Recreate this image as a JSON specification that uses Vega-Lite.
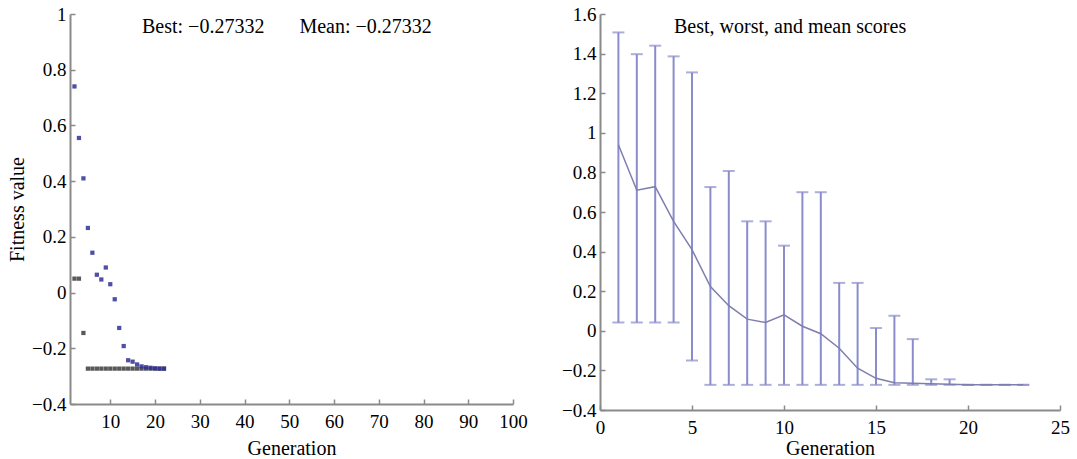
{
  "$schema": "https://vega.github.io/schema/vega-lite/v6.json",
  "background": "white",
  "padding": {"left": 7, "top": 5, "right": 0, "bottom": 0},
  "config": {
    "font": "Liberation Serif",
    "view": {"stroke": null},
    "concat": {"spacing": 33},
    "axis": {
      "labelFont": "Liberation Serif",
      "labelFontSize": 19,
      "labelColor": "#000",
      "labelOverlap": false,
      "titleFont": "Liberation Serif",
      "titleFontSize": 20,
      "titleFontWeight": "normal",
      "titleColor": "#000",
      "grid": false,
      "domainColor": "#8a8a8a",
      "domainWidth": 2,
      "tickColor": "#8a8a8a",
      "tickWidth": 1.5,
      "tickSize": -5,
      "labelPadding": 9
    },
    "axisX": {"labelPadding": 13, "labelFlush": false},
    "title": {"font": "Liberation Serif", "fontSize": 20, "fontWeight": "normal", "color": "#000"}
  },
  "datasets": {
    "left": [
      {"gen": 2, "best": 0.05, "mean": 0.74},
      {"gen": 3, "best": 0.05, "mean": 0.555},
      {"gen": 4, "best": -0.145, "mean": 0.41},
      {"gen": 5, "best": -0.273, "mean": 0.232},
      {"gen": 6, "best": -0.273, "mean": 0.143},
      {"gen": 7, "best": -0.273, "mean": 0.064},
      {"gen": 8, "best": -0.273, "mean": 0.047},
      {"gen": 9, "best": -0.273, "mean": 0.09},
      {"gen": 10, "best": -0.273, "mean": 0.03},
      {"gen": 11, "best": -0.273, "mean": -0.024},
      {"gen": 12, "best": -0.273, "mean": -0.127},
      {"gen": 13, "best": -0.273, "mean": -0.192},
      {"gen": 14, "best": -0.273, "mean": -0.243},
      {"gen": 15, "best": -0.273, "mean": -0.248},
      {"gen": 16, "best": -0.273, "mean": -0.258},
      {"gen": 17, "best": -0.273, "mean": -0.265},
      {"gen": 18, "best": -0.273, "mean": -0.268},
      {"gen": 19, "best": -0.273, "mean": -0.27},
      {"gen": 20, "best": -0.273, "mean": -0.272},
      {"gen": 21, "best": -0.273, "mean": -0.273},
      {"gen": 22, "best": -0.273, "mean": -0.273}
    ],
    "right": [
      {"gen": 1, "worst": 1.507, "best": 0.042, "mean": 0.94},
      {"gen": 2, "worst": 1.397, "best": 0.042, "mean": 0.71},
      {"gen": 3, "worst": 1.44, "best": 0.042, "mean": 0.728},
      {"gen": 4, "worst": 1.386, "best": 0.042, "mean": 0.553},
      {"gen": 5, "worst": 1.305, "best": -0.15, "mean": 0.41},
      {"gen": 6, "worst": 0.726, "best": -0.273, "mean": 0.223},
      {"gen": 7, "worst": 0.807, "best": -0.273, "mean": 0.127},
      {"gen": 8, "worst": 0.553, "best": -0.273, "mean": 0.059},
      {"gen": 9, "worst": 0.553, "best": -0.273, "mean": 0.042},
      {"gen": 10, "worst": 0.43, "best": -0.273, "mean": 0.081},
      {"gen": 11, "worst": 0.7, "best": -0.273, "mean": 0.023},
      {"gen": 12, "worst": 0.7, "best": -0.273, "mean": -0.015},
      {"gen": 13, "worst": 0.242, "best": -0.273, "mean": -0.088},
      {"gen": 14, "worst": 0.242, "best": -0.273, "mean": -0.189},
      {"gen": 15, "worst": 0.014, "best": -0.273, "mean": -0.24},
      {"gen": 16, "worst": 0.076, "best": -0.273, "mean": -0.262},
      {"gen": 17, "worst": -0.042, "best": -0.273, "mean": -0.265},
      {"gen": 18, "worst": -0.245, "best": -0.273, "mean": -0.268},
      {"gen": 19, "worst": -0.245, "best": -0.273, "mean": -0.27},
      {"gen": 20, "worst": -0.273, "best": -0.273, "mean": -0.273},
      {"gen": 21, "worst": -0.273, "best": -0.273, "mean": -0.273},
      {"gen": 22, "worst": -0.273, "best": -0.273, "mean": -0.273},
      {"gen": 23, "worst": -0.273, "best": -0.273, "mean": -0.273}
    ]
  },
  "hconcat": [
    {
      "width": 443,
      "height": 390,
      "data": {"name": "left"},
      "title": {
        "text": "Best: −0.27332\u00a0\u00a0\u00a0\u00a0\u00a0\u00a0\u00a0Mean: −0.27332",
        "anchor": "start",
        "frame": "group",
        "dx": 72,
        "offset": -48,
        "baseline": "alphabetic"
      },
      "layer": [
        {
          "mark": {"type": "point", "shape": "square", "filled": true, "size": 18, "color": "#3c3c3c", "opacity": 0.85},
          "encoding": {
            "x": {"field": "gen", "type": "quantitative", "scale": {"domain": [1, 100], "nice": false},
                  "axis": {"values": [10, 20, 30, 40, 50, 60, 70, 80, 90, 100], "tickCount": 20, "title": "Generation", "titlePadding": 7}},
            "y": {"field": "best", "type": "quantitative", "scale": {"domain": [-0.4, 1], "nice": false},
                  "axis": {"values": [-0.4, -0.2, 0, 0.2, 0.4, 0.6, 0.8, 1], "tickCount": 20, "format": ".1~f", "title": "Fitness value", "titlePadding": 4}}
          }
        },
        {
          "mark": {"type": "point", "shape": "square", "filled": true, "size": 18, "color": "#303095", "opacity": 0.85},
          "encoding": {
            "x": {"field": "gen", "type": "quantitative"},
            "y": {"field": "mean", "type": "quantitative"}
          }
        }
      ]
    },
    {
      "width": 460,
      "height": 396,
      "data": {"name": "right"},
      "title": {
        "text": "Best, worst, and mean scores",
        "anchor": "start",
        "frame": "group",
        "dx": 74,
        "offset": -48,
        "baseline": "alphabetic"
      },
      "layer": [
        {
          "mark": {"type": "rule", "color": "#8a8ccc", "strokeWidth": 2},
          "encoding": {
            "x": {"field": "gen", "type": "quantitative", "scale": {"domain": [0, 25], "nice": false},
                  "axis": {"values": [0, 5, 10, 15, 20, 25], "tickCount": 20, "title": "Generation", "titlePadding": 1}},
            "y": {"field": "worst", "type": "quantitative", "scale": {"domain": [-0.4, 1.6], "nice": false},
                  "axis": {"values": [-0.4, -0.2, 0, 0.2, 0.4, 0.6, 0.8, 1, 1.2, 1.4, 1.6], "tickCount": 20, "format": ".1~f", "title": null}},
            "y2": {"field": "best"}
          }
        },
        {
          "mark": {"type": "tick", "orient": "horizontal", "size": 12, "thickness": 2, "color": "#8a8ccc"},
          "encoding": {
            "x": {"field": "gen", "type": "quantitative"},
            "y": {"field": "worst", "type": "quantitative"}
          }
        },
        {
          "mark": {"type": "tick", "orient": "horizontal", "size": 12, "thickness": 2, "color": "#8a8ccc"},
          "encoding": {
            "x": {"field": "gen", "type": "quantitative"},
            "y": {"field": "best", "type": "quantitative"}
          }
        },
        {
          "mark": {"type": "line", "color": "#7e7eb0", "strokeWidth": 1.5},
          "encoding": {
            "x": {"field": "gen", "type": "quantitative"},
            "y": {"field": "mean", "type": "quantitative"}
          }
        }
      ]
    }
  ]
}
